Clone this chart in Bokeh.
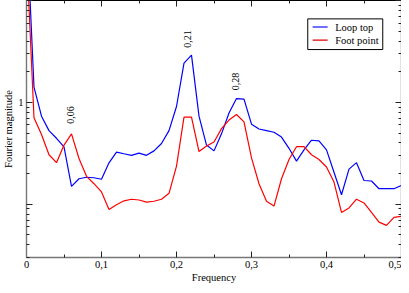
from math import pi
from bokeh.plotting import figure
from bokeh.models import (Range1d, FixedTicker, CustomJSTickFormatter, LinearAxis,
                          LogAxis)
from bokeh.core.properties import value
from bokeh.embed import file_html
from bokeh.resources import INLINE

# ---- data ----
freq = [0.00, 0.01, 0.02, 0.03, 0.04, 0.05, 0.06, 0.07, 0.08, 0.09,
        0.10, 0.11, 0.12, 0.13, 0.14, 0.15, 0.16, 0.17, 0.18, 0.19,
        0.20, 0.21, 0.22, 0.23, 0.24, 0.25, 0.26, 0.27, 0.28, 0.29,
        0.30, 0.31, 0.32, 0.33, 0.34, 0.35, 0.36, 0.37, 0.38, 0.39,
        0.40, 0.41, 0.42, 0.43, 0.44, 0.45, 0.46, 0.47, 0.48, 0.49, 0.50]

loop_top = [60.0, 1.41, 0.732, 0.528, 0.444, 0.365, 0.150, 0.178, 0.184, 0.182,
            0.176, 0.255, 0.325, 0.313, 0.302, 0.318, 0.302, 0.334, 0.395, 0.528,
            0.911, 2.43, 2.91, 0.732, 0.381, 0.334, 0.491, 0.787, 1.09, 1.077,
            0.611, 0.548, 0.528, 0.509, 0.456, 0.354, 0.265, 0.342, 0.425, 0.419,
            0.342, 0.206, 0.124, 0.221, 0.256, 0.171, 0.169, 0.142, 0.142, 0.142, 0.153]

foot_point = [30.0, 0.706, 0.484, 0.306, 0.256, 0.381, 0.491, 0.281, 0.188, 0.159,
              0.132, 0.089, 0.099, 0.108, 0.112, 0.110, 0.105, 0.107, 0.112, 0.128,
              0.237, 0.717, 0.717, 0.329, 0.373, 0.409, 0.552, 0.671, 0.760, 0.643,
              0.285, 0.159, 0.107, 0.096, 0.178, 0.275, 0.367, 0.367, 0.306, 0.275,
              0.232, 0.165, 0.083, 0.092, 0.112, 0.103, 0.083, 0.0667, 0.062, 0.0743, 0.076]

series_names = ["Loop top", "Foot point"]
series_colors = ["#0000ff", "#ff0000"]

peak_freq = [0.058, 0.214, 0.279]
peak_label = ["0,06", "0,21", "0,28"]
peak_label_y = [0.75, 4.2, 1.6]

x_ticks = [0.0, 0.1, 0.2, 0.3, 0.4, 0.5]
x_minor = [0.05, 0.15, 0.25, 0.35, 0.45]
y_ticks = [0.1, 1, 10]
y_minor = [0.03, 0.04, 0.05, 0.06, 0.07, 0.08, 0.09,
           0.2, 0.3, 0.4, 0.5, 0.6, 0.7, 0.8, 0.9,
           2, 3, 4, 5, 6, 7, 8, 9]

FONT = "'Liberation Serif'"

p = figure(width=401, height=285, x_range=Range1d(0, 0.5), y_range=Range1d(0.03, 10),
           y_axis_type="log", output_backend="svg", toolbar_location=None,
           min_border_left=0, min_border_top=0, min_border_right=0, min_border_bottom=0)
p.xgrid.visible = False
p.ygrid.visible = False
p.outline_line_color = None
p.background_fill_color = "white"

xfmt = CustomJSTickFormatter(code="return tick === 0 ? '0' : tick.toFixed(1).replace('.', ',');")
yfmt = CustomJSTickFormatter(code="return Math.abs(tick - 1) < 1e-9 ? '1' : '';")
blank = CustomJSTickFormatter(code="return '';")


def style_axis(ax, line_color, line_width):
    ax.axis_line_color = line_color
    ax.axis_line_width = line_width
    ax.major_tick_in = 6
    ax.major_tick_out = 0
    ax.minor_tick_in = 3
    ax.minor_tick_out = 0
    ax.major_tick_line_color = "#222222"
    ax.minor_tick_line_color = "#222222"
    ax.major_label_text_font = FONT
    ax.major_label_text_font_size = "10.5px"
    ax.major_label_text_color = "black"
    ax.axis_label_text_font = FONT
    ax.axis_label_text_font_size = "10.5px"
    ax.axis_label_text_font_style = "normal"
    ax.axis_label_text_color = "black"


xa = p.xaxis[0]
xa.ticker = FixedTicker(ticks=x_ticks, minor_ticks=x_minor)
xa.formatter = xfmt
xa.axis_label = "Frequency"
style_axis(xa, "#777777", 1.6)
xa.major_label_standoff = 3
xa.axis_label_standoff = 1

ya = p.yaxis[0]
ya.ticker = FixedTicker(ticks=y_ticks, minor_ticks=y_minor)
ya.formatter = yfmt
ya.axis_label = "Fourier magnitude"
style_axis(ya, "#777777", 1.4)
ya.major_label_standoff = 3
ya.axis_label_standoff = 1

top = LinearAxis(ticker=FixedTicker(ticks=x_ticks, minor_ticks=x_minor), formatter=blank)
style_axis(top, "black", 1.0)
top.major_label_text_font_size = "0px"
top.major_label_standoff = 0
p.add_layout(top, "above")

right = LogAxis(ticker=FixedTicker(ticks=y_ticks, minor_ticks=y_minor), formatter=blank)
style_axis(right, "#777777", 1.4)
right.major_label_text_font_size = "0px"
right.major_label_standoff = 0
p.add_layout(right, "right")

p.line(freq, loop_top, line_color=series_colors[0], line_width=1.2)
p.line(freq, foot_point, line_color=series_colors[1], line_width=1.2)

p.text(x=peak_freq, y=peak_label_y, text=peak_label, angle=pi / 2,
       text_align="center", text_baseline="middle",
       text_font=value(FONT), text_font_size="10px", text_color="black")

# ---- legend box (drawn by hand, placed in data space at the upper right) ----
leg_rows_y = [5.49, 4.09]
p.quad(left=[0.375], right=[0.475], top=[6.6], bottom=[3.3],
       fill_color="white", line_color="black", line_width=1)
p.segment(x0=[0.3815, 0.3815], x1=[0.4015, 0.4015], y0=leg_rows_y, y1=leg_rows_y,
          line_color=["#6f6fff", "#e00000"], line_width=[2.0, 1.2])
p.text(x=[0.4115, 0.4115], y=leg_rows_y, text=series_names,
       text_align="left", text_baseline="middle",
       text_font=value(FONT), text_font_size="10.5px", text_color="black")

open("out.html", "w").write(file_html(p, INLINE))
